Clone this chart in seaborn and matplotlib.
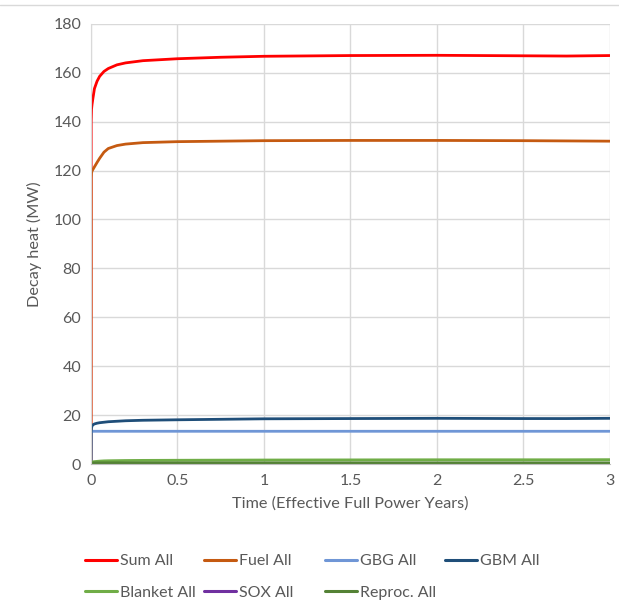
import matplotlib
matplotlib.use('Agg')
import matplotlib.pyplot as plt
import seaborn as sns
import pandas as pd

# time points (effective full power years)
time = [0, 0.001, 0.003, 0.006, 0.01, 0.02, 0.035, 0.05, 0.075, 0.1, 0.15, 0.2,
        0.3, 0.5, 0.75, 1.0, 1.5, 2.0, 2.5, 2.75, 3.0]

sum_all = [0, 140, 145, 147, 149, 153.5, 156.5, 158.5, 160.5, 161.7, 163.2, 164,
           164.9, 165.7, 166.3, 166.7, 167, 167.1, 166.9, 166.8, 167]
fuel_all = [0, 117, 119, 119.8, 120.3, 121.5, 123.3, 125, 127.5, 129, 130.2, 130.8,
            131.4, 131.8, 132, 132.2, 132.3, 132.3, 132.2, 132.1, 132.0]
gbg_all = [0, 13.4, 13.4, 13.4, 13.4, 13.4, 13.4, 13.4, 13.4, 13.4, 13.4, 13.4,
           13.4, 13.4, 13.4, 13.4, 13.4, 13.4, 13.4, 13.4, 13.4]
gbm_all = [0, 13.0, 14.8, 15.5, 16.0, 16.4, 16.7, 16.9, 17.1, 17.3, 17.5, 17.7,
           17.9, 18.1, 18.3, 18.5, 18.6, 18.7, 18.6, 18.6, 18.7]
blanket_all = [0, 0.5, 0.7, 0.8, 0.9, 1.0, 1.1, 1.2, 1.3, 1.35, 1.4, 1.45,
               1.5, 1.55, 1.6, 1.65, 1.7, 1.75, 1.75, 1.75, 1.8]
sox_all = [0, 0.05, 0.05, 0.05, 0.05, 0.05, 0.05, 0.05, 0.05, 0.05, 0.05, 0.05,
           0.05, 0.05, 0.05, 0.05, 0.05, 0.05, 0.05, 0.05, 0.05]
reproc_all = [0, 0.3, 0.4, 0.4, 0.5, 0.5, 0.5, 0.5, 0.5, 0.5, 0.5, 0.5,
              0.5, 0.5, 0.5, 0.5, 0.5, 0.5, 0.5, 0.5, 0.5]

labels = ['Sum All', 'Fuel All', 'GBG All', 'GBM All', 'Blanket All', 'SOX All', 'Reproc. All']
series = [sum_all, fuel_all, gbg_all, gbm_all, blanket_all, sox_all, reproc_all]
colors = ['#ff0000', '#c55a11', '#6f96d6', '#1f4e79', '#70ad47', '#7030a0', '#548235']

rows = []
for lab, vals in zip(labels, series):
    for t, v in zip(time, vals):
        rows.append({'time': t, 'heat': v, 'series': lab})
df = pd.DataFrame(rows)

sns.set_style('white')
plt.rcParams['font.family'] = ['Lato', 'DejaVu Sans']

fig = plt.figure(figsize=(6.19, 6.09), dpi=100)
ax = fig.add_axes([0.147, 0.238, 0.838, 0.723])

# series order as in the source workbook: later ones sit on top
sns.lineplot(data=df, x='time', y='heat', hue='series', hue_order=labels,
             palette=dict(zip(labels, colors)), linewidth=2.0, ax=ax,
             legend=False, estimator=None, sort=True)

ax.set_xlim(0, 3)
ax.set_ylim(0, 180)
ax.set_xticks([0, 0.5, 1, 1.5, 2, 2.5, 3])
ax.set_xticklabels(['0', '0.5', '1', '1.5', '2', '2.5', '3'])
ax.set_yticks(range(0, 181, 20))
ax.grid(True, color='#d9d9d9', linewidth=1)
ax.set_axisbelow(True)
for s in ['top', 'right']:
    ax.spines[s].set_visible(False)
ax.spines['left'].set_color('#d9d9d9')
ax.spines['bottom'].set_color('#bfbfbf')
ax.tick_params(axis='both', length=0, labelsize=11.5, labelcolor='#595959', pad=7)
ax.set_xlabel('Time (Effective Full Power Years)', fontsize=11.7, color='#595959', labelpad=6)
ax.set_ylabel('Decay heat (MW)', fontsize=11.7, color='#595959', labelpad=8)

# Excel-style legend: equal-width columns, filled row by row
col_x = [85, 204, 325, 445]
for c in range(4):
    idx = [i for i in (c, c + 4) if i < len(labels)]
    handles = [plt.Line2D([0], [0], color=colors[i], linewidth=2.2) for i in idx]
    fig.legend(handles, [labels[i] for i in idx], loc='upper left',
               bbox_to_anchor=(col_x[c] / 619, 1 - 554 / 609), frameon=False,
               fontsize=11.5, labelcolor='#595959', handlelength=2.0,
               handletextpad=0.2, labelspacing=1.1, borderpad=0, borderaxespad=0)

# thin border line along the top of the chart area
fig.add_artist(plt.Line2D([0, 1], [0.992, 0.992], color='#d9d9d9', linewidth=1))

fig.savefig('out.png', dpi=100)
